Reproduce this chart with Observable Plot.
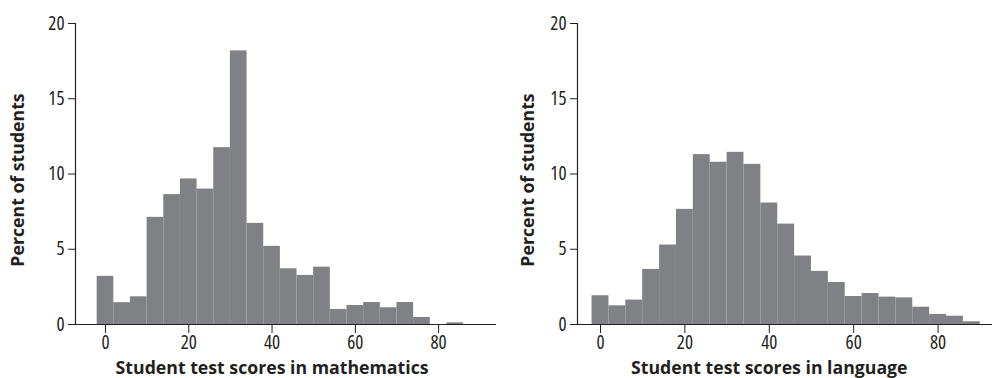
<!DOCTYPE html>
<html>
<head>
<meta charset="utf-8">
<script src="https://cdn.jsdelivr.net/npm/d3@7"></script>
<script src="https://cdn.jsdelivr.net/npm/@observablehq/plot@0.6"></script>
<style>
  html, body { margin: 0; padding: 0; background: #ffffff; }
  #wrap { position: relative; width: 992px; height: 378px; overflow: hidden; }
  #wrap > div { position: absolute; top: 0; }
  svg text { font-stretch: 75%; }
  svg g[font-weight="bold"] text { font-stretch: 100%; }
</style>
</head>
<body>
<div id="wrap"><div id="left" style="left:0"></div><div id="right" style="left:496px"></div></div>
<script>
// Bin centres (bins are 4 points wide)
const binCenters = [0, 4, 8, 12, 16, 20, 24, 28, 32, 36, 40, 44, 48, 52, 56, 60, 64, 68, 72, 76, 80, 84, 88];
const binWidth = 4;
// Percent of students per bin
const mathPct = [3.2, 1.45, 1.84, 7.12, 8.63, 9.67, 9.0, 11.75, 18.18, 6.72, 5.19, 3.70, 3.26, 3.81, 1.0, 1.26, 1.46, 1.11, 1.46, 0.47, 0, 0.11, 0];
const langPct = [1.91, 1.24, 1.62, 3.66, 5.28, 7.65, 11.29, 10.78, 11.44, 10.64, 8.07, 6.67, 4.55, 3.53, 2.79, 1.86, 2.06, 1.82, 1.77, 1.15, 0.67, 0.55, 0.18];
const xTicks = [0, 20, 40, 60, 80];
const yTicks = [0, 5, 10, 15, 20];
const yLabel = "Percent of students";
const xLabelMath = "Student test scores in mathematics";
const xLabelLang = "Student test scores in language";

const barFill = "#808184";
const ink = "#231f20";
const font = "'Open Sans', sans-serif";

function panel({values, xDomain, marginLeft, xLabel, yLabelDx}) {
  const data = binCenters.map((c, i) => ({x1: c - binWidth / 2, x2: c + binWidth / 2, pct: values[i]})).filter(d => d.pct > 0);
  return Plot.plot({
    width: 496,
    height: 378,
    marginLeft,
    marginRight: 0,
    marginTop: 23,
    marginBottom: 54,
    style: {fontFamily: font, fontSize: "19px", color: ink, background: "transparent", overflow: "visible"},
    x: {domain: xDomain, label: null, axis: null},
    y: {domain: [0, 20], label: null, axis: null},
    marks: [
      Plot.rectY(data, {x1: "x1", x2: "x2", y: "pct", fill: barFill, insetLeft: 0, insetRight: 0}),
      Plot.ruleY([0], {stroke: ink, strokeWidth: 1.2}),
      Plot.ruleX([xDomain[0]], {stroke: ink, strokeWidth: 1.2}),
      Plot.axisX({ticks: xTicks, tickSize: 9, tickPadding: 2, label: null, stroke: ink, fill: ink, fontSize: 19, fontFamily: font}),
      Plot.axisY({ticks: yTicks, tickSize: 7, tickPadding: 4, label: null, stroke: ink, fill: ink, fontSize: 19, fontFamily: font}),
      Plot.text([xLabel], {x: [d3.mean([xTicks[0], xTicks[xTicks.length - 1]])], frameAnchor: "bottom", text: d => d, dy: 44, textAnchor: "middle", lineAnchor: "middle", fontWeight: "bold", fontSize: 17.7, fontFamily: font, fill: ink}),
      Plot.text([yLabel], {frameAnchor: "left", text: d => d, dx: yLabelDx, dy: 6, rotate: -90, textAnchor: "middle", lineAnchor: "middle", fontWeight: "bold", fontSize: 17.7, fontFamily: font, fill: ink})
    ]
  });
}

document.getElementById("left").appendChild(panel({values: mathPct, xDomain: [-7.2, 93.9], marginLeft: 75, xLabel: xLabelMath, yLabelDx: -57}));
document.getElementById("right").appendChild(panel({values: langPct, xDomain: [-5.45, 92.9], marginLeft: 81, xLabel: xLabelLang, yLabelDx: -49}));
</script>
</body>
</html>
